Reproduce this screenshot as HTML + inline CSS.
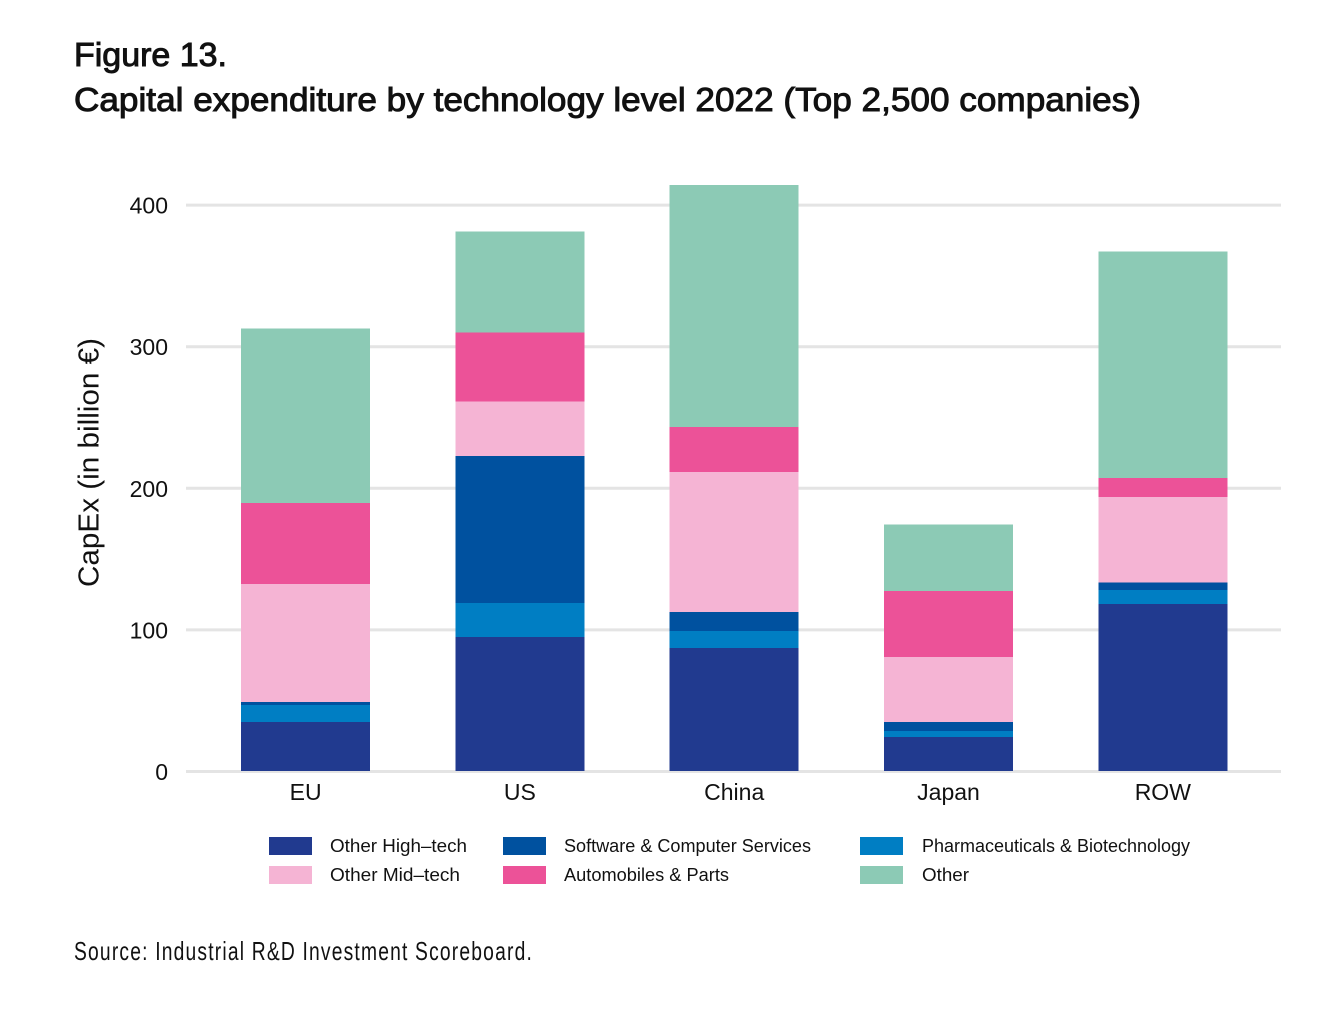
<!DOCTYPE html>
<html>
<head>
<meta charset="utf-8">
<title>Capital expenditure by technology level 2022</title>
<style>
html,body{margin:0;padding:0;background:#fff;}
svg{display:block;font-family:"Liberation Sans",sans-serif;}
text{fill:#111;}
</style>
</head>
<body>
<svg id="chart" xmlns="http://www.w3.org/2000/svg" width="1324" height="1022" viewBox="0 0 1324 1022">
  <text x="74" y="66" font-size="33" stroke="#111" stroke-width="0.95" textLength="153" lengthAdjust="spacingAndGlyphs">Figure 13.</text>
  <text x="74" y="111" font-size="33" stroke="#111" stroke-width="0.95" textLength="1067" lengthAdjust="spacingAndGlyphs">Capital expenditure by technology level 2022 (Top 2,500 companies)</text>
  <text transform="translate(98.5,587) rotate(-90)" font-size="29" textLength="249" lengthAdjust="spacingAndGlyphs">CapEx (in billion €)</text>
  <g id="grid"></g>
  <g id="bars" shape-rendering="crispEdges"></g>
  <g id="xlabels"></g>
  <g>
    <rect x="269" y="837" width="43" height="18" fill="#213a8f"/>
    <text x="330" y="852" font-size="18" textLength="137" lengthAdjust="spacingAndGlyphs">Other High–tech</text>
    <rect x="269" y="866" width="43" height="18" fill="#f5b4d4"/>
    <text x="330" y="881" font-size="18" textLength="130" lengthAdjust="spacingAndGlyphs">Other Mid–tech</text>
    <rect x="503" y="837" width="43" height="18" fill="#00519f"/>
    <text x="564" y="852" font-size="18" textLength="247" lengthAdjust="spacingAndGlyphs">Software &amp; Computer Services</text>
    <rect x="503" y="866" width="43" height="18" fill="#ec5298"/>
    <text x="564" y="881" font-size="18" textLength="165" lengthAdjust="spacingAndGlyphs">Automobiles &amp; Parts</text>
    <rect x="860" y="837" width="43" height="18" fill="#007ec3"/>
    <text x="922" y="852" font-size="18" textLength="268" lengthAdjust="spacingAndGlyphs">Pharmaceuticals &amp; Biotechnology</text>
    <rect x="860" y="866" width="43" height="18" fill="#8ccab5"/>
    <text x="922" y="881" font-size="18" textLength="47" lengthAdjust="spacingAndGlyphs">Other</text>
  </g>
  <text x="74" y="960" font-size="26" letter-spacing="1.6" textLength="459" lengthAdjust="spacingAndGlyphs">Source: Industrial R&amp;D Investment Scoreboard.</text>
</svg>
<script>
const categories = ['EU', 'US', 'China', 'Japan', 'ROW'];
const yTicks = [0, 100, 200, 300, 400];
const otherHighTech = [34.6, 94.7, 87, 24, 118];
const pharma = [12, 24, 12, 4.3, 10];
const software = [2.2, 103.9, 13.4, 6.3, 5];
const otherMidTech = [83.2, 38.2, 98.9, 46, 60.6];
const automobiles = [57.4, 48.7, 31.7, 46.4, 13.4];
const other = [123, 71.5, 171, 47, 159.8];
const seriesNames = ['other-high-tech', 'pharmaceuticals', 'software', 'other-mid-tech', 'automobiles', 'other'];
const seriesColors = ['#213a8f', '#007ec3', '#00519f', '#f5b4d4', '#ec5298', '#8ccab5'];
const seriesValues = [otherHighTech, pharma, software, otherMidTech, automobiles, other];

const NS = 'http://www.w3.org/2000/svg';
const plotLeft = 186, plotRight = 1281, baseY = 771, unitPx = 1.416;
const firstCenter = 305.6, stepX = 214.3, barW = 129;
function yScale(v) { return baseY - v * unitPx; }
function xScale(i) { return firstCenter + i * stepX; }

const grid = document.getElementById('grid');
yTicks.forEach(function (t) {
  const line = document.createElementNS(NS, 'line');
  
  
  line.setAttribute('x1', plotLeft);
  line.setAttribute('x2', plotRight);
  line.setAttribute('y1', yScale(t) + 0.5);
  line.setAttribute('y2', yScale(t) + 0.5);
  line.setAttribute('stroke', '#e4e4e4');
  line.setAttribute('stroke-width', '3');
  grid.appendChild(line);
  const label = document.createElementNS(NS, 'text');
  
  
  label.setAttribute('x', 168);
  label.setAttribute('y', yScale(t) + 9);
  label.setAttribute('font-size', '23');
  label.setAttribute('text-anchor', 'end');
  label.textContent = t;
  grid.appendChild(label);
});

const bars = document.getElementById('bars');
categories.forEach(function (cat, i) {
  let cum = 0;
  seriesValues.forEach(function (vals, s) {
    const rect = document.createElementNS(NS, 'rect');
    
    
    rect.setAttribute('x', xScale(i) - barW / 2);
    rect.setAttribute('y', yScale(cum + vals[i]));
    rect.setAttribute('width', barW);
    rect.setAttribute('height', vals[i] * unitPx);
    rect.setAttribute('fill', seriesColors[s]);
    bars.appendChild(rect);
    cum += vals[i];
  });
});

const xlabels = document.getElementById('xlabels');
categories.forEach(function (cat, i) {
  const label = document.createElementNS(NS, 'text');
  
  
  label.setAttribute('x', xScale(i));
  label.setAttribute('y', 800);
  label.setAttribute('font-size', '23');
  label.setAttribute('text-anchor', 'middle');
  label.textContent = cat;
  xlabels.appendChild(label);
});
</script>
</body>
</html>
